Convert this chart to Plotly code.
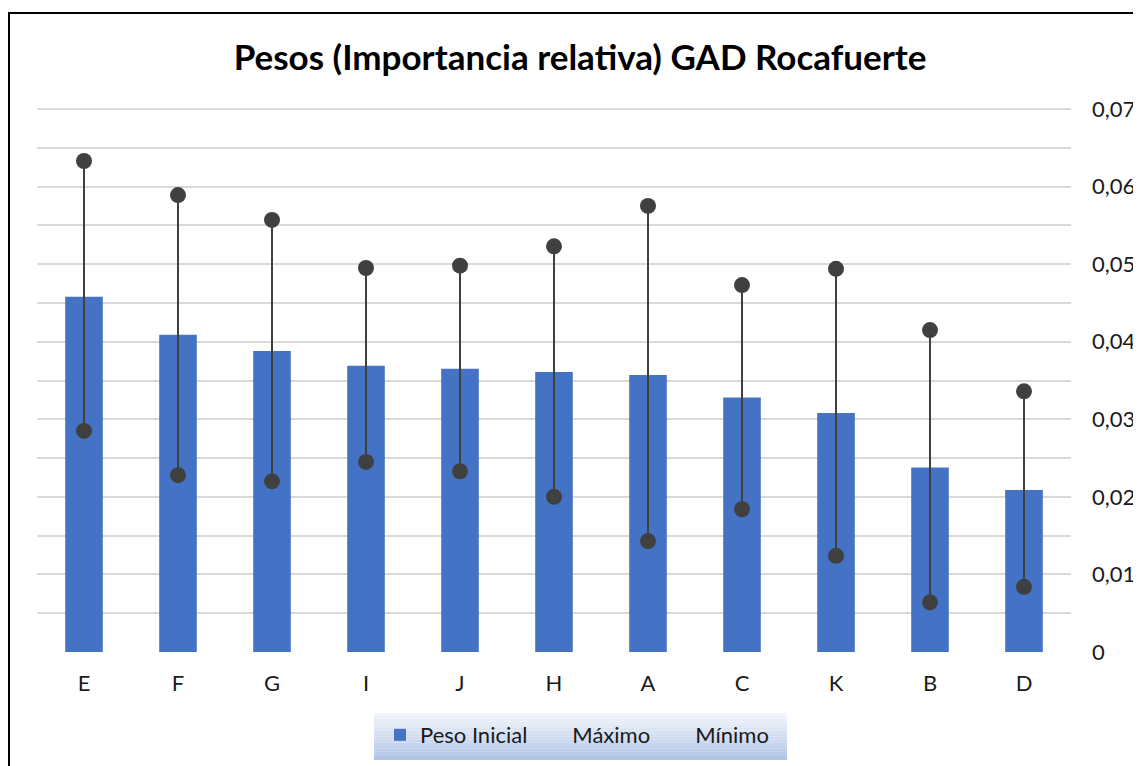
import plotly.graph_objects as go

categories = ["E", "F", "G", "I", "J", "H", "A", "C", "K", "B", "D"]
peso_inicial = [0.0458, 0.0409, 0.0388, 0.0369, 0.0365, 0.0361, 0.0357, 0.0328, 0.0308, 0.0238, 0.0209]
maximo = [0.0633, 0.0589, 0.0557, 0.0495, 0.0498, 0.0523, 0.0575, 0.0473, 0.0494, 0.0415, 0.0336]
minimo = [0.0285, 0.0228, 0.0220, 0.0245, 0.0233, 0.0200, 0.0143, 0.0184, 0.0124, 0.0064, 0.0084]
y_tickvals = [0, 0.01, 0.02, 0.03, 0.04, 0.05, 0.06, 0.07]
y_ticktext = ["0", "0,01", "0,02", "0,03", "0,04", "0,05", "0,06", "0,07"]

FONT = "Lato"
DARK = "#404040"
TXT = "#1a1a1a"

fig = go.Figure()
fig.add_trace(go.Bar(x=categories, y=peso_inicial, name="Peso Inicial",
                     marker=dict(color="#4472C4", line=dict(width=0)),
                     showlegend=True))

lx, ly = [], []
for c, lo, hi in zip(categories, minimo, maximo):
    lx += [c, c, None]
    ly += [lo, hi, None]
fig.add_trace(go.Scatter(x=lx, y=ly, mode="lines", line=dict(color=DARK, width=2),
                         showlegend=False, hoverinfo="skip"))
fig.add_trace(go.Scatter(x=categories, y=maximo, mode="markers", name="Máximo",
                         marker=dict(color=DARK, size=16), showlegend=False))
fig.add_trace(go.Scatter(x=categories, y=minimo, mode="markers", name="Mínimo",
                         marker=dict(color=DARK, size=16), showlegend=False))
# legend entries (Excel shows no symbol for these)
fig.add_trace(go.Scatter(x=[None], y=[None], mode="markers", name="Máximo",
                         marker=dict(color="rgba(0,0,0,0)", size=1), showlegend=True))
fig.add_trace(go.Scatter(x=[None], y=[None], mode="markers", name="Mínimo",
                         marker=dict(color="rgba(0,0,0,0)", size=1), showlegend=True))

# page body has an 8px margin; work in screen pixels and shift
OFF = 8
FW, FH = 1141 - OFF, 766 - OFF
L, R, T, B = 37, 1071, 104, 652   # screen px of plot area
W, H = R - L, B - T
YMAX = 0.07 * H / (B - 109)

def px2x(px):
    return (px - L) / W

def py2y(py):
    return (B - py) / H

shapes = []
# gradient legend background
x0, x1, y0, y1 = 374, 787, 713, 760
n = 16
c_top = (242, 245, 251)
c_bot = (176, 196, 230)
for i in range(n):
    t = i / (n - 1)
    col = tuple(int(round(c_top[k] + (c_bot[k] - c_top[k]) * t)) for k in range(3))
    ya = y0 + (y1 - y0) * i / n
    yb = y0 + (y1 - y0) * (i + 1) / n
    shapes.append(dict(type="rect", xref="paper", yref="paper",
                       x0=px2x(x0), x1=px2x(x1), y0=py2y(yb), y1=py2y(ya),
                       fillcolor="rgb(%d,%d,%d)" % col, line=dict(width=0), layer="below"))
# chart border (partially visible)
shapes.append(dict(type="rect", xref="paper", yref="paper",
                   x0=px2x(9), x1=px2x(1170), y0=py2y(800), y1=py2y(13),
                   line=dict(color="black", width=2), fillcolor="rgba(0,0,0,0)", layer="below"))

fig.update_layout(
    width=FW, height=FH,
    margin=dict(l=L - OFF, r=1141 - R, t=T - OFF, b=766 - B, autoexpand=False),
    paper_bgcolor="white", plot_bgcolor="white",
    title=dict(text="<b>Pesos (Importancia relativa) GAD Rocafuerte</b>",
               x=(580 - OFF) / FW, xanchor="center", y=1 - (58 - OFF) / FH, yanchor="middle",
               font=dict(family=FONT, size=35, color="black")),
    font=dict(family=FONT, size=22, color=TXT),
    bargap=0.6,
    showlegend=True,
    legend=dict(orientation="h", x=px2x(577), xanchor="center", y=py2y(714), yanchor="top",
                bgcolor="rgba(0,0,0,0)", font=dict(family=FONT, size=22, color=TXT),
                itemwidth=30, traceorder="normal"),
    xaxis=dict(showgrid=False, showline=False, ticks="", ticklabelstandoff=16,
               range=[-0.5, len(categories) - 0.5],
               tickfont=dict(family=FONT, size=22, color=TXT), zeroline=False),
    yaxis=dict(side="right", range=[0, YMAX], tickvals=y_tickvals, ticktext=y_ticktext,
               showgrid=True, gridcolor="#d9d9d9", gridwidth=1.5, zeroline=False,
               showline=False, ticks="", ticklabelstandoff=20,
               tickfont=dict(family=FONT, size=22, color=TXT),
               minor=dict(dtick=0.005, tick0=0, showgrid=True, gridcolor="#d9d9d9", gridwidth=1.5)),
    shapes=shapes,
)

fig.write_html("out.html")
